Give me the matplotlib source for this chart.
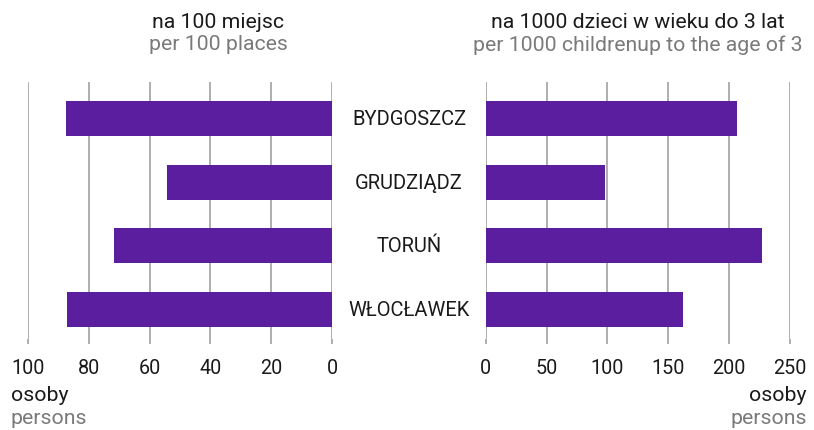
import matplotlib
matplotlib.use("Agg")
import matplotlib.pyplot as plt

cities = ["BYDGOSZCZ", "GRUDZIĄDZ", "TORUŃ", "WŁOCŁAWEK"]
per_100_places = [87.5, 54.3, 71.6, 87.2]
per_1000_children = [206.7, 98.1, 227.2, 162.3]
left_ticks = [0, 20, 40, 60, 80, 100]
right_ticks = [0, 50, 100, 150, 200, 250]

plt.rcParams['font.family'] = ['Roboto', 'DejaVu Sans']

W, H = 814, 431
fig = plt.figure(figsize=(W / 100, H / 100), dpi=100)

BAR = "#5b1e9e"
GRID = "#a8a8a8"
DARK = "#1a1a1a"
GREY = "#7a7a7a"

top_px, bot_px = 83, 340


def make_ax(x0, x1):
    return fig.add_axes([x0 / W, 1 - bot_px / H, (x1 - x0) / W, (bot_px - top_px) / H])


axL = make_ax(28, 332)
axR = make_ax(485.7, 789.7)

ypos = list(range(len(cities)))
axL.barh(ypos, per_100_places, height=0.55, color=BAR, zorder=3)
axR.barh(ypos, per_1000_children, height=0.55, color=BAR, zorder=3)

axL.set_xlim(100, 0)
axR.set_xlim(0, 250)
axL.set_xticks(left_ticks)
axR.set_xticks(right_ticks)

for ax in (axL, axR):
    ax.set_ylim(3.463, -0.57)
    ax.set_yticks([])
    for s in ax.spines.values():
        s.set_visible(False)
    ax.grid(axis="x", color=GRID, lw=1.3, zorder=0)
    ax.tick_params(axis="x", length=3.6, width=1.3, color=GRID, pad=10,
                   labelsize=14.2, labelcolor=DARK)
    ax.set_facecolor("none")

for i, c in enumerate(cities):
    y = axL.transData.transform((0, i))[1]
    fig.text(409 / W, y / H, c, ha="center", va="center", fontsize=14.5, color=DARK)

TS = 15.3
fig.text(218 / W, 1 - 22 / H, "na 100 miejsc", ha="center", va="center", fontsize=TS, color=DARK)
fig.text(218 / W, 1 - 45 / H, "per 100 places", ha="center", va="center", fontsize=TS, color=GREY)
fig.text(638 / W, 1 - 22 / H, "na 1000 dzieci w wieku do 3 lat", ha="center", va="center", fontsize=TS, color=DARK)
fig.text(638 / W, 1 - 45 / H, "per 1000 childrenup to the age of 3", ha="center", va="center", fontsize=TS, color=GREY)

fig.text(11 / W, 1 - 396 / H, "osoby", ha="left", va="center", fontsize=TS, color=DARK)
fig.text(11 / W, 1 - 419 / H, "persons", ha="left", va="center", fontsize=TS, color=GREY)
fig.text(807 / W, 1 - 396 / H, "osoby", ha="right", va="center", fontsize=TS, color=DARK)
fig.text(807 / W, 1 - 419 / H, "persons", ha="right", va="center", fontsize=TS, color=GREY)

fig.savefig("out.png", dpi=100, facecolor="white")
